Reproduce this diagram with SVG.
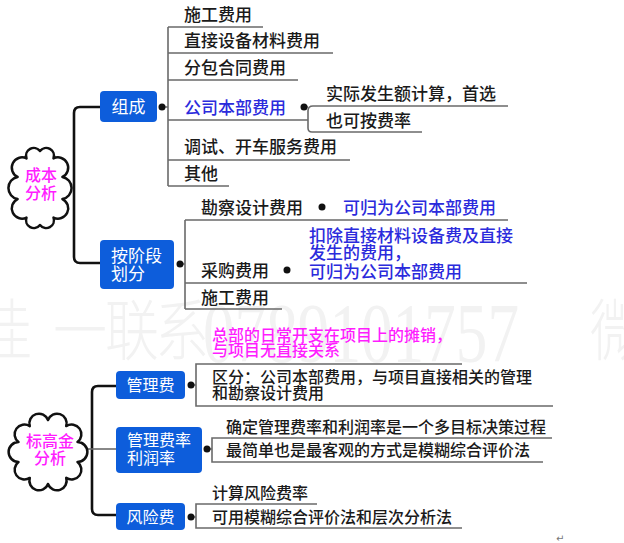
<svg xmlns="http://www.w3.org/2000/svg" width="624" height="543" viewBox="0 0 624 543">
<style>
.t{font-family:"Noto Sans CJK SC","Noto Sans",sans-serif;fill:#1a1a1a;font-weight:500;}
.s17{font-size:17px;}
.s16{font-size:16px;}
.blue{fill:#2b2bdc;}
.mag{fill:#ff1dff;}
.w{fill:#fff;font-weight:400;}
.box{fill:#0d5ddb;}
.ln{fill:none;stroke:#6a6a6a;stroke-width:1.6;}
.br{fill:none;stroke:#111;stroke-width:2.6;}
.cl{fill:#fff;stroke:#111;stroke-width:2.5;stroke-linejoin:round;}
.dot{fill:#111;}
.wm{fill:#f2f2f2;}
</style>
<rect width="624" height="543" fill="#fff"/>
<g id="watermark">
<g transform="translate(0,355) scale(1,1.25)">
<text class="wm" x="-22" y="0" font-family="Noto Sans CJK SC, sans-serif" font-weight="200" font-size="54">佳</text>
<text class="wm" x="53" y="0" font-family="Noto Sans CJK SC, sans-serif" font-weight="200" font-size="54">一</text>
<text class="wm" x="105" y="0" font-family="Noto Sans CJK SC, sans-serif" font-weight="200" font-size="54">联</text>
<text class="wm" x="155" y="0" font-family="Noto Sans CJK SC, sans-serif" font-weight="200" font-size="54">系</text>
<text class="wm" x="590" y="0" font-family="Noto Sans CJK SC, sans-serif" font-weight="200" font-size="54">微</text>
</g>
<g transform="translate(0,362) scale(1,1.38)">
<text class="wm" x="203" y="0" font-family="Liberation Serif, serif" font-size="62" textLength="316" lengthAdjust="spacingAndGlyphs">0789101757</text>
</g>
</g>
<g id="connectors">
<path class="br" d="M100,107 H80 Q74,107 74,113 V257 Q74,263 80,263 H100"/>
<path class="br" d="M116,386 H98 Q92,386 92,392 V509 Q92,515 98,515 H116"/>
<path class="ln" d="M88,449 H116"/>
<path class="ln" d="M162,107 H168 M168,27 V186 M168,27 H263 M168,53 H333 M168,80 H298 M168,120 H308 M168,160 H350 M168,186 H229"/>
<path class="ln" d="M304,107 H308 M508,106 H313 Q308,106 308,111 V128 Q308,132 312,132 H422"/>
<path class="ln" d="M180,264 H185 M185,220 V309 M185,220 H508 M185,283 H527 M185,309 H282"/>
<path class="ln" d="M191,385 H196 M462,364 H196 V406 H553"/>
<path class="ln" d="M207,449 H212 M552,438 H212 V462 H543"/>
<path class="ln" d="M191,517 H196 M317,504 H196 V528 H462"/>
<circle class="dot" cx="162" cy="107" r="3.5"/>
<circle class="dot" cx="180" cy="264" r="3.5"/>
<circle class="dot" cx="304" cy="107" r="3.5"/>
<circle class="dot" cx="322" cy="207" r="3.5"/>
<circle class="dot" cx="287" cy="270" r="3.5"/>
<circle class="dot" cx="191" cy="385" r="3.5"/>
<circle class="dot" cx="207" cy="449" r="3.5"/>
<circle class="dot" cx="191" cy="517" r="3.5"/>
</g>
<g id="cost-analysis">
<path class="cl" d="M40,151 A7.8,7.8 0 0 1 53.5,158.4 A10.2,10.2 0 0 1 62.4,176.9 A11.3,11.3 0 0 1 62.4,199.1 A10.2,10.2 0 0 1 53.5,217.6 A7.8,7.8 0 0 1 40,225 A7.8,7.8 0 0 1 26.5,217.6 A10.2,10.2 0 0 1 17.6,199.1 A11.3,11.3 0 0 1 17.6,176.9 A10.2,10.2 0 0 1 26.5,158.4 A7.8,7.8 0 0 1 40,151 Z"/>
<text class="t s16 mag" x="41" y="181" text-anchor="middle">成本</text>
<text class="t s16 mag" x="41" y="199" text-anchor="middle">分析</text>
</g>
<g id="composition">
<rect class="box" x="100" y="91" width="57" height="31" rx="4"/>
<text class="t s17 w" x="128.5" y="113" text-anchor="middle">组成</text>
</g>
<g id="composition-items">
<text class="t s17" x="184" y="20.5">施工费用</text>
<text class="t s17" x="184" y="46.5">直接设备材料费用</text>
<text class="t s17" x="184" y="73.5">分包合同费用</text>
<text class="t s17 blue" x="184" y="113.5">公司本部费用</text>
<text class="t s17" x="184" y="152.5">调试、开车服务费用</text>
<text class="t s17" x="184" y="179.5">其他</text>
</g>
<g id="hq-cost-items">
<text class="t s17" x="326" y="99.5">实际发生额计算，首选</text>
<text class="t s17" x="326" y="126.5">也可按费率</text>
</g>
<g id="by-stage">
<rect class="box" x="100" y="240" width="74" height="49" rx="4"/>
<text class="t s17 w" x="111" y="261.5">按阶段</text>
<text class="t s17 w" x="111" y="279.5">划分</text>
</g>
<g id="by-stage-items">
<text class="t s17" x="201" y="213.5">勘察设计费用</text>
<text class="t s17 blue" x="343" y="213.5">可归为公司本部费用</text>
<text class="t s17" x="201" y="276.5">采购费用</text>
<text class="t s17 blue" x="309" y="241.5">扣除直接材料设备费及直接</text>
<text class="t s17 blue" x="309" y="259">发生的费用，</text>
<text class="t s17 blue" x="309" y="277.5">可归为公司本部费用</text>
<text class="t s17" x="201" y="303.5">施工费用</text>
</g>
<g id="bid-analysis">
<path class="cl" d="M48,420 A9.6,9.6 0 0 1 66.2,426.1 A9.8,9.8 0 0 1 77.5,442.1 A9.9,9.9 0 0 1 77.5,461.9 A9.8,9.8 0 0 1 66.2,477.9 A9.6,9.6 0 0 1 48,484 A9.6,9.6 0 0 1 29.8,477.9 A9.8,9.8 0 0 1 18.5,461.9 A9.9,9.9 0 0 1 18.5,442.1 A9.8,9.8 0 0 1 29.8,426.1 A9.6,9.6 0 0 1 48,420 Z"/>
<text class="t s16 mag" x="50" y="447" text-anchor="middle">标高金</text>
<text class="t s16 mag" x="50" y="464" text-anchor="middle">分析</text>
</g>
<g id="mgmt-fee">
<rect class="box" x="116" y="371" width="69" height="28" rx="4"/>
<text class="t s16 w" x="150.5" y="391" text-anchor="middle">管理费</text>
</g>
<g id="mgmt-fee-items">
<text class="t s16 mag" x="212" y="341">总部的日常开支在项目上的摊销，</text>
<text class="t s16 mag" x="212" y="356">与项目无直接关系</text>
<text class="t s16" x="212" y="383">区分：公司本部费用，与项目直接相关的管理</text>
<text class="t s16" x="212" y="399">和勘察设计费用</text>
</g>
<g id="rate-profit">
<rect class="box" x="116" y="427" width="86" height="46" rx="4"/>
<text class="t s16 w" x="127" y="446">管理费率</text>
<text class="t s16 w" x="127" y="463.5">利润率</text>
</g>
<g id="rate-profit-items">
<text class="t s16" x="226" y="433">确定管理费率和利润率是一个多目标决策过程</text>
<text class="t s16" x="226" y="456">最简单也是最客观的方式是模糊综合评价法</text>
</g>
<g id="risk-fee">
<rect class="box" x="116" y="503" width="69" height="27" rx="4"/>
<text class="t s16 w" x="150.5" y="523" text-anchor="middle">风险费</text>
</g>
<g id="risk-fee-items">
<text class="t s16" x="212" y="499">计算风险费率</text>
<text class="t s16" x="212" y="523">可用模糊综合评价法和层次分析法</text>
</g>
<text x="556" y="542" font-family="DejaVu Sans, sans-serif" font-size="10" fill="#777">↵</text>
</svg>
